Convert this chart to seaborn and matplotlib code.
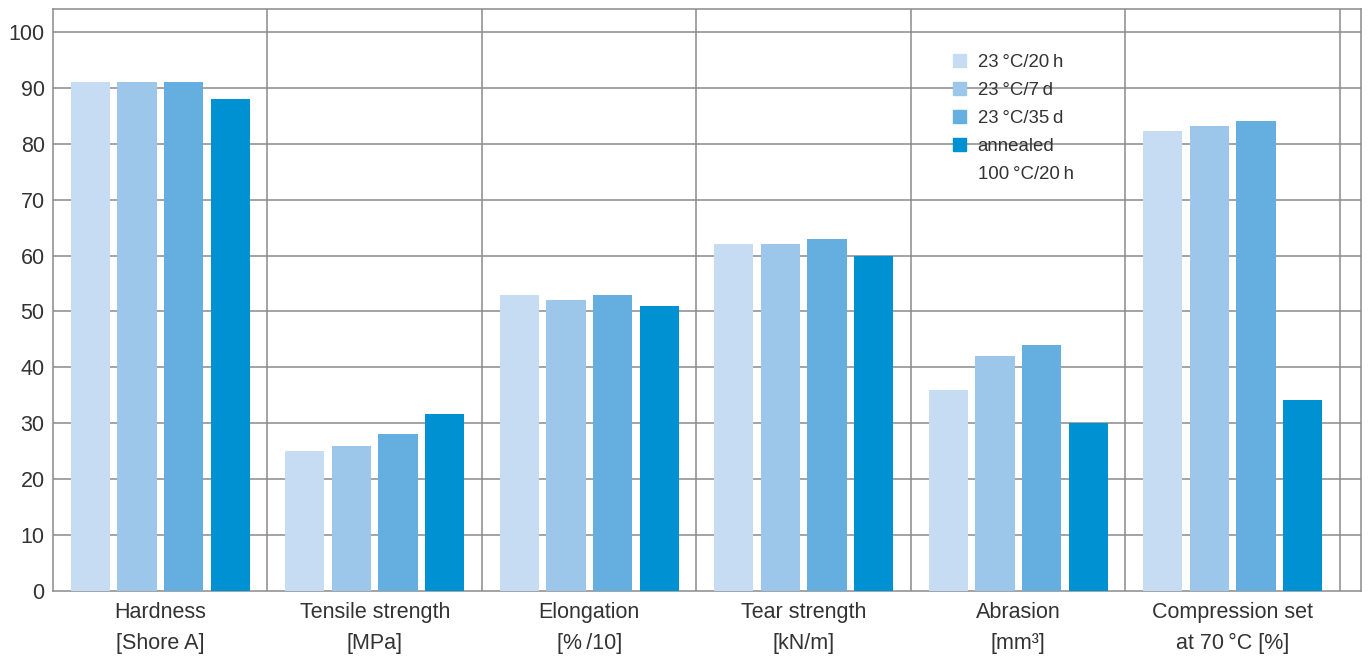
import matplotlib
matplotlib.use("Agg")
import matplotlib.pyplot as plt
import matplotlib.patches as mpatches
import seaborn as sns
import pandas as pd

categories = ["Hardness\n[Shore A]", "Tensile strength\n[MPa]", "Elongation\n[%\u2009/10]",
              "Tear strength\n[kN/m]", "Abrasion\n[mm\u00b3]", "Compression set\nat 70\u2009\u00b0C [%]"]
series_names = ["23\u2009\u00b0C/20\u2009h", "23\u2009\u00b0C/7\u2009d", "23\u2009\u00b0C/35\u2009d", "annealed"]
v_20h = [91, 25, 53, 62, 36, 82.2]
v_7d = [91, 26, 52, 62, 42, 83.2]
v_35d = [91, 28, 53, 63, 44, 84]
v_annealed = [88, 31.6, 51, 60, 30, 34.1]
yticks = [0, 10, 20, 30, 40, 50, 60, 70, 80, 90, 100]
colors = ["#c6dcf2", "#9cc6ea", "#64afe0", "#0091d3"]

sns.set_style("white")
plt.rcParams["font.family"] = ["Liberation Sans", "DejaVu Sans"]
text_color = "#333333"
grid_color = "#8a8a8a"

rows = []
for s, vals in zip(series_names, [v_20h, v_7d, v_35d, v_annealed]):
    for c, v in zip(categories, vals):
        rows.append({"cat": c, "series": s, "value": v})
df = pd.DataFrame(rows)

fig = plt.figure(figsize=(13.68, 6.57), dpi=100)
ax = fig.add_axes([53 / 1368, 1 - 591 / 657, (1361 - 53) / 1368, (591 - 9) / 657])

sns.barplot(data=df, x="cat", y="value", hue="series", order=categories,
            hue_order=series_names, palette=colors, width=0.868, gap=0.16,
            saturation=1, ax=ax, legend=False, zorder=3, linewidth=0, edgecolor="none")

ax.set_ylim(0, 104.1)
ax.set_xlim(-0.5, 5.598)
ax.set_yticks(yticks)
ax.set_yticklabels([str(t) for t in yticks])
ax.set_xlabel("")
ax.set_ylabel("")

for t in yticks[1:]:
    ax.axhline(t, color=grid_color, lw=1.1, zorder=1)
for i in range(6):
    ax.axvline(i + 0.5, color=grid_color, lw=1.1, zorder=1)

for side in ["top", "right", "bottom", "left"]:
    ax.spines[side].set_color(grid_color)
    ax.spines[side].set_linewidth(1.1)

ax.tick_params(axis="both", length=0, labelsize=15.5, colors=text_color)
ax.tick_params(axis="y", pad=6)
ax.tick_params(axis="x", pad=8)
for lab in ax.get_xticklabels():
    lab.set_linespacing(1.6)

handles = [mpatches.Patch(color=c) for c in colors]
handles.append(mpatches.Patch(color="none"))
labels = series_names + ["100\u2009\u00b0C/20\u2009h"]
leg = ax.legend(handles, labels, loc="upper left", bbox_to_anchor=((946 - 53) / 1308, (591 - 47) / 582),
                frameon=False, fontsize=13.4, handlelength=0.7, handleheight=0.7,
                handletextpad=0.6, labelspacing=0.58, borderaxespad=0)
for t in leg.get_texts():
    t.set_color(text_color)

fig.savefig("out.png", dpi=100)
